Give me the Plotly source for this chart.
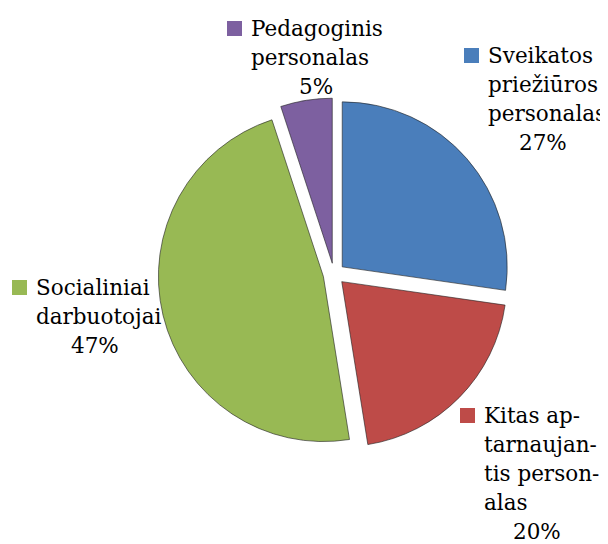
import plotly.graph_objects as go

# ---- data ----
categories = ["Sveikatos priežiūros personalas",
              "Kitas aptarnaujantis personalas",
              "Socialiniai darbuotojai",
              "Pedagoginis personalas"]
values = [27, 20, 47, 5]
label_lines = [["Sveikatos", "priežiūros", "personalas"],
               ["Kitas ap-", "tarnaujan-", "tis person-", "alas"],
               ["Socialiniai", "darbuotojai"],
               ["Pedagoginis", "personalas"]]
colors = ["#4a7ebb", "#be4b48", "#98b954", "#7d60a0"]

# ---- layout constants (pixels, in window coordinates) ----
W, H = 608, 544
OFF = 8  # page body margin
FS = 21.5
PITCH = 29
# left edge of text, first baseline, centre of percentage line
label_pos = [(487, 63, 543), (483, 423, 537), (35, 295, 95), (250, 36, 316)]

cx, cy, r, pull = 334, 274, 165, 0.066
half = r * (1 + pull)

def px(x):
    return (x - OFF) / W

def py(y):
    return 1 - (y - OFF) / H

fig = go.Figure(go.Pie(
    labels=categories, values=values, sort=False, direction="clockwise",
    rotation=0, pull=[pull] * len(values), textinfo="none",
    marker=dict(colors=colors, line=dict(color="rgba(30,30,30,0.6)", width=1)),
    domain=dict(x=[px(cx - half), px(cx + half)], y=[py(cy + half), py(cy - half)]),
    showlegend=False, hoverinfo="label+percent"))

total = sum(values)
font = dict(family="DejaVu Serif", size=FS, color="black")
ann = []
shapes = []
for i, lines in enumerate(label_lines):
    left, base, pc = label_pos[i]
    pct = f"{round(values[i] / total * 100)}%"
    for j, t in enumerate(lines):
        b = base + j * PITCH
        ann.append(dict(x=px(left), y=py(b - 0.346 * FS), xref="paper", yref="paper",
                        text=t, showarrow=False, xanchor="left", yanchor="middle",
                        font=font, borderpad=0))
    b = base + len(lines) * PITCH
    ann.append(dict(x=px(pc), y=py(b - 0.346 * FS), xref="paper", yref="paper",
                    text=pct, showarrow=False, xanchor="center", yanchor="middle",
                    font=font, borderpad=0))
    shapes.append(dict(type="rect", xref="paper", yref="paper",
                       x0=px(left - 23), x1=px(left - 8), y0=py(base), y1=py(base - 15),
                       fillcolor=colors[i], line=dict(width=0)))

fig.update_layout(width=W, height=H, margin=dict(l=0, r=0, t=0, b=0),
                  paper_bgcolor="white", plot_bgcolor="white",
                  font=font, annotations=ann, shapes=shapes)
fig.write_html("out.html")
